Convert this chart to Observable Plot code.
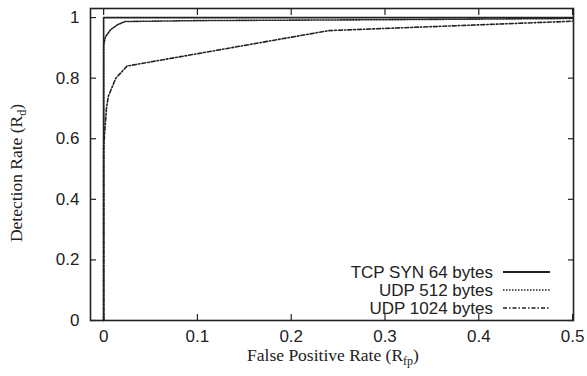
<!DOCTYPE html>
<html>
<head>
<meta charset="utf-8">
<script src="https://cdn.jsdelivr.net/npm/d3@7"></script>
<script src="https://cdn.jsdelivr.net/npm/@observablehq/plot@0.6"></script>
<style>
body { margin: 0; background: #fff; }
#chart svg { display: block; }
</style>
</head>
<body>
<div id="chart"></div>
<script>
// Series (false positive rate, detection rate)
const seriesNames = ["TCP SYN 64 bytes", "UDP 512 bytes", "UDP 1024 bytes"];
const tcpFp = [0, 0, 0.5];
const tcpD  = [0, 1, 1];
const udp512Fp = [0, 0, 0.002, 0.0075, 0.015, 0.023, 0.1, 0.3, 0.5];
const udp512D  = [0, 0.91, 0.937, 0.96, 0.977, 0.987, 0.99, 0.993, 0.997];
const udp1024Fp = [0, 0, 0.003, 0.005, 0.013, 0.025, 0.24, 0.5];
const udp1024D  = [0, 0.57, 0.70, 0.74, 0.80, 0.84, 0.957, 0.988];
const xTicks = [0, 0.1, 0.2, 0.3, 0.4, 0.5];
const yTicks = [0, 0.2, 0.4, 0.6, 0.8, 1];
const dashes = [null, "1.5,1.5", "4,2,1.5,2"];

const toRows = (name, xs, ys) => xs.map((x, i) => ({series: name, fp: x, d: ys[i]}));
const data = [
  ...toRows(seriesNames[0], tcpFp, tcpD),
  ...toRows(seriesNames[1], udp512Fp, udp512D),
  ...toRows(seriesNames[2], udp1024Fp, udp1024D)
];

const ink = "#222";
const plot = Plot.plot({
  width: 587,
  height: 376,
  marginLeft: 90,
  marginRight: 14,
  marginTop: 8,
  marginBottom: 56,
  style: {fontFamily: "'Liberation Sans', Arial, sans-serif", fontSize: "17px", color: ink, background: "#fff"},
  x: {domain: [-0.014, 0.501], ticks: xTicks, label: null},
  y: {domain: [0, 1.03], ticks: yTicks, label: null},
  marks: [
    Plot.axisX({anchor: "bottom", ticks: xTicks, tickSize: -6, tickPadding: 15, tickFormat: d => String(d), label: null, strokeWidth: 1.2}),
    Plot.axisX({anchor: "top", ticks: xTicks, tickSize: -6, tickFormat: () => "", label: null, strokeWidth: 1.2}),
    Plot.axisY({anchor: "left", ticks: yTicks, tickSize: -6, tickPadding: 17, tickFormat: d => String(d), label: null, strokeWidth: 1.2}),
    Plot.axisY({anchor: "right", ticks: yTicks, tickSize: -6, tickFormat: () => "", label: null, strokeWidth: 1.2}),
    ...seriesNames.map((name, i) =>
      Plot.line(data.filter(r => r.series === name), {
        x: "fp", y: "d", stroke: ink, strokeWidth: 1.6,
        strokeDasharray: dashes[i]
      })
    ),
    Plot.frame({stroke: ink, strokeWidth: 1.6})
  ]
});
document.getElementById("chart").appendChild(plot);

const svg = d3.select(plot);
// Axis titles with subscripts
const serif = "'Liberation Serif', 'Times New Roman', serif";
const xt = svg.append("text")
  .attr("x", 333).attr("y", 361)
  .attr("text-anchor", "middle")
  .attr("font-family", serif).attr("font-size", 17.5).attr("fill", ink);
xt.append("tspan").text("False Positive Rate (R");
xt.append("tspan").attr("font-size", 12).attr("dy", 4).text("fp");
xt.append("tspan").attr("dy", -4).text(")");

const yt = svg.append("text")
  .attr("transform", "translate(22,173) rotate(-90)")
  .attr("text-anchor", "middle")
  .attr("font-family", serif).attr("font-size", 17.5).attr("fill", ink);
yt.append("tspan").text("Detection Rate (R");
yt.append("tspan").attr("font-size", 12).attr("dy", 4).text("d");
yt.append("tspan").attr("dy", -4).text(")");

// Legend (inside, bottom right)
const legendY = [272, 290, 308];
seriesNames.forEach((name, i) => {
  svg.append("text")
    .attr("x", 493).attr("y", legendY[i]).attr("dy", "0.35em")
    .attr("text-anchor", "end")
    .attr("font-family", "'Liberation Sans', Arial, sans-serif")
    .attr("font-size", 17).attr("fill", ink)
    .text(name);
  svg.append("line")
    .attr("x1", 503).attr("x2", 550)
    .attr("y1", legendY[i]).attr("y2", legendY[i])
    .attr("stroke", ink).attr("stroke-width", i === 0 ? 1.8 : 1.4)
    .attr("stroke-dasharray", dashes[i]);
});
</script>
</body>
</html>
